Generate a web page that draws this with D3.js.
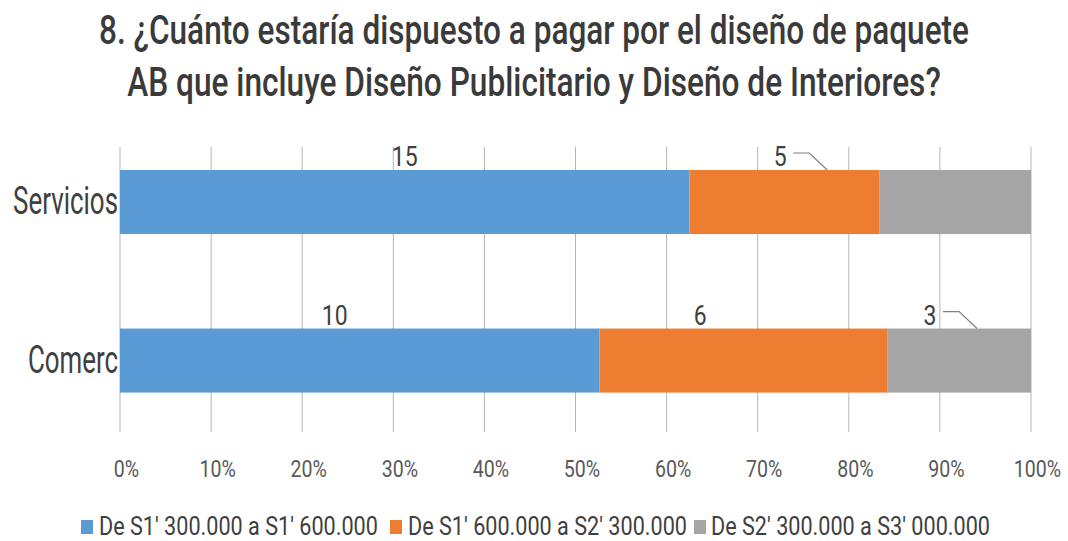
<!DOCTYPE html>
<html>
<head>
<meta charset="utf-8">
<script src="https://cdn.jsdelivr.net/npm/d3@7/dist/d3.min.js"></script>
<style>
  html, body { margin: 0; padding: 0; background: #ffffff; }
  svg { display: block; font-family: Roboto, "Liberation Sans", sans-serif; }
</style>
</head>
<body>
<svg id="chart" width="1068" height="541"></svg>
<script>
// ---- data ----
const titleLines = [
  "8. ¿Cuánto estaría dispuesto a pagar por el diseño de paquete",
  "AB que incluye Diseño Publicitario y Diseño de Interiores?"
];
const categories = ["Servicios", "Comerc"];
const seriesNames = [
  "De S1' 300.000 a S1' 600.000",
  "De S1' 600.000 a S2' 300.000",
  "De S2' 300.000 a S3' 000.000"
];
const serviciosValues = [15, 5, 4];
const comercValues = [10, 6, 3];
const shownLabels = [[true, true, false], [true, true, true]];
const tickValues = [0, 0.1, 0.2, 0.3, 0.4, 0.5, 0.6, 0.7, 0.8, 0.9, 1];

// ---- layout / style ----
const colors = ["#5b9bd5", "#ed7d31", "#a5a5a5"];
const textColor = "#404040";
// nudges for the data labels (dx from the segment centre) and optional leader lines
const labelLayout = [
  [{ dx: 0 }, { dx: -4, leader: true }, null],
  [{ dx: -25 }, { dx: -43 }, { dx: -29, leader: true }]
];

const svg = d3.select("#chart");
const W = 1068;

// squeeze a text horizontally (about its anchor x) so it spans `width` pixels
function fitWidth(sel, width) {
  sel.each(function (d, i) {
    const t = d3.select(this);
    const w = typeof width === "function" ? width(d, i) : width;
    const natural = this.getComputedTextLength();
    const ax = +t.attr("x");
    const k = w / natural;
    t.attr("transform", `translate(${ax},0) scale(${k},1) translate(${-ax},0)`);
  });
}
// condensed look: fixed horizontal squeeze about the anchor
function squeeze(sel, k) {
  sel.each(function () {
    const t = d3.select(this);
    const ax = +t.attr("x") || 0;
    const prev = t.attr("transform") || "";
    t.attr("transform", `${prev} translate(${ax},0) scale(${k},1) translate(${-ax},0)`);
  });
}

const x = d3.scaleLinear().domain([0, 1]).range([120, 1031]);
const y = d3.scaleBand().domain(categories)
  .range([138.3, 424.3]).paddingInner(0.596).paddingOuter(0.2);

// title
svg.append("g").selectAll("text").data(titleLines).join("text")
  .attr("x", W / 2)
  .attr("y", (d, i) => 44 + i * 52)
  .attr("text-anchor", "middle")
  .attr("font-size", 41)
  .attr("font-weight", 500)
  .attr("fill", "#3a3a3a")
  .text(d => d)
  .call(fitWidth, (d, i) => [870, 814][i]);

// vertical gridlines
svg.append("g").selectAll("line").data(tickValues).join("line")
  .attr("x1", d => x(d)).attr("x2", d => x(d))
  .attr("y1", 147).attr("y2", 432)
  .attr("stroke", "#b5b5b5").attr("stroke-width", 1);

// x axis tick labels
const xAxis = d3.axisBottom(x).tickValues(tickValues).tickFormat(d3.format(".0%")).tickSize(0);
const gx = svg.append("g").attr("transform", "translate(6,459)").call(xAxis);
gx.select(".domain").remove();
gx.selectAll("text")
  .attr("font-size", 23)
  .attr("font-family", "Roboto, sans-serif")
  .attr("fill", "#595959")
  .attr("dy", 0)
  .attr("y", 18)
  .attr("x", 0)
  .call(squeeze, 0.85);

// stacked 100% bars
const rows = [serviciosValues, comercValues];
const barData = [];
rows.forEach((vals, r) => {
  const total = d3.sum(vals);
  let acc = 0;
  vals.forEach((v, s) => {
    barData.push({ cat: categories[r], r, s, v, x0: acc / total, x1: (acc + v) / total });
    acc += v;
  });
});

svg.append("g").selectAll("rect").data(barData).join("rect")
  .attr("x", d => x(d.x0))
  .attr("width", d => x(d.x1) - x(d.x0))
  .attr("y", d => y(d.cat))
  .attr("height", y.bandwidth())
  .attr("fill", d => colors[d.s]);

// category labels
const catWidths = { "Servicios": 105, "Comerc": 90 };
svg.append("g").selectAll("text").data(categories).join("text")
  .attr("x", 118)
  .attr("y", d => y(d) + y.bandwidth() / 2 + 12)
  .attr("text-anchor", "end")
  .attr("font-size", 38)
  .attr("fill", textColor)
  .text(d => d)
  .call(fitWidth, d => catWidths[d]);

// data labels
const labelled = barData.filter(d => shownLabels[d.r][d.s]);
const lg = svg.append("g");
labelled.forEach(d => {
  const lay = labelLayout[d.r][d.s];
  const cx = x((d.x0 + d.x1) / 2) + lay.dx;
  const top = y(d.cat);
  lg.append("text")
    .attr("x", cx)
    .attr("y", top - 4)
    .attr("text-anchor", "middle")
    .attr("font-size", 28)
    .attr("fill", textColor)
    .text(d.v)
    .call(squeeze, 0.82);
  if (lay.leader) {
    const sx = cx + 13;
    const sy = top - 17;
    lg.append("path")
      .attr("d", `M${sx},${sy} H${sx + 16} L${sx + 34},${top}`)
      .attr("fill", "none")
      .attr("stroke", "#7f7f7f")
      .attr("stroke-width", 1.2);
  }
});

// legend
const legendItems = [
  { sq: 81, tx: 99 },
  { sq: 390, tx: 408 },
  { sq: 694, tx: 711 }
];
const leg = svg.append("g");
seriesNames.forEach((name, i) => {
  leg.append("rect")
    .attr("x", legendItems[i].sq).attr("y", 520)
    .attr("width", 12).attr("height", 14)
    .attr("fill", colors[i]);
  leg.append("text")
    .attr("x", legendItems[i].tx).attr("y", 535)
    .attr("font-size", 26)
    .attr("fill", textColor)
    .text(name)
    .call(fitWidth, 279);
});
</script>
</body>
</html>
